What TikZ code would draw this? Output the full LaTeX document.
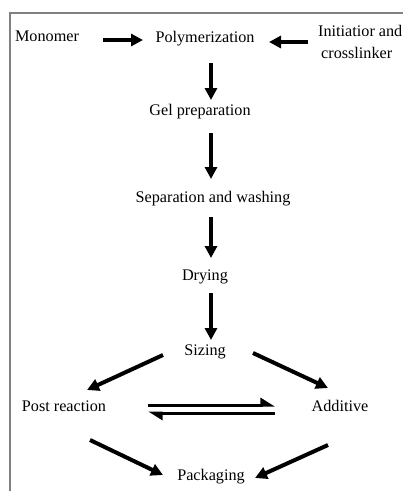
\documentclass[tikz,border=0pt]{standalone}
\usepackage{fontspec}
\setmainfont{Liberation Serif}
\usetikzlibrary{arrows.meta,calc}
\begin{document}
\begin{tikzpicture}[x=1pt,y=-1pt,
  fnt/.style={font=\fontsize{16.2}{22}\selectfont},
  lbl/.style={fnt, inner sep=0pt, text height=0.7em, text depth=0.22em},
  arr/.style={line width=4pt, -{Triangle[length=12pt,width=12pt]}},
  harp/.style={line width=3pt, -{Triangle[harpoon,length=12pt,width=14pt]}},
  frame/.style={draw=black!50, line width=2.6pt}]
\useasboundingbox (0,0) rectangle (403,491);
\draw[frame] (10,491) -- (10,13) -- (403,13);
% nodes
\node[lbl] (monomer) at (47,39) {Monomer};
\node[lbl] (polymer) at (205,40) {Polymerization};
\node[fnt, inner sep=0pt, align=left, anchor=north west] (init) at (318,25) {Initiatior and\\\hspace*{3pt}crosslinker};
\node[lbl] (gel) at (200,113) {Gel preparation};
\node[lbl] (sep) at (213,200) {Separation and washing};
\node[lbl] (dry) at (205,278) {Drying};
\node[lbl] (sizing) at (205,353) {Sizing};
\node[lbl] (post) at (64,409) {Post reaction};
\node[lbl] (add) at (340,409) {Additive};
\node[lbl] (pack) at (211,478) {Packaging};
% connectors
\draw[arr] ($(monomer)+(56,1)$) -- ($(polymer)+(-62,0)$);
\draw[arr] ($(init.west |- polymer)+(-10,2)$) -- ($(polymer)+(64,2)$);
\draw[arr] ($(polymer)+(6,23)$) -- ($(gel)+(11,-13)$);
\draw[arr] ($(gel)+(11,20)$) -- ($(sep)+(-2,-21)$);
\draw[arr] ($(sep)+(-2,17)$) -- ($(dry)+(6,-20)$);
\draw[arr] ($(dry)+(6,15)$) -- ($(sizing)+(6,-13)$);
\draw[arr] ($(sizing)+(-42,2)$) -- ($(post)+(23,-19)$);
\draw[arr] ($(sizing)+(48,0)$) -- ($(add)+(-12,-21)$);
\draw[harp] ($(post)+(84,-4)$) -- ($(add)+(-65,-4)$);
\draw[harp] ($(add)+(-65,4)$) -- ($(post)+(84,4)$);
\draw[arr] ($(post)+(26,31)$) -- ($(pack)+(-48,-3)$);
\draw[arr] ($(add)+(-12,36)$) -- ($(pack)+(44,0)$);
\end{tikzpicture}
\end{document}
